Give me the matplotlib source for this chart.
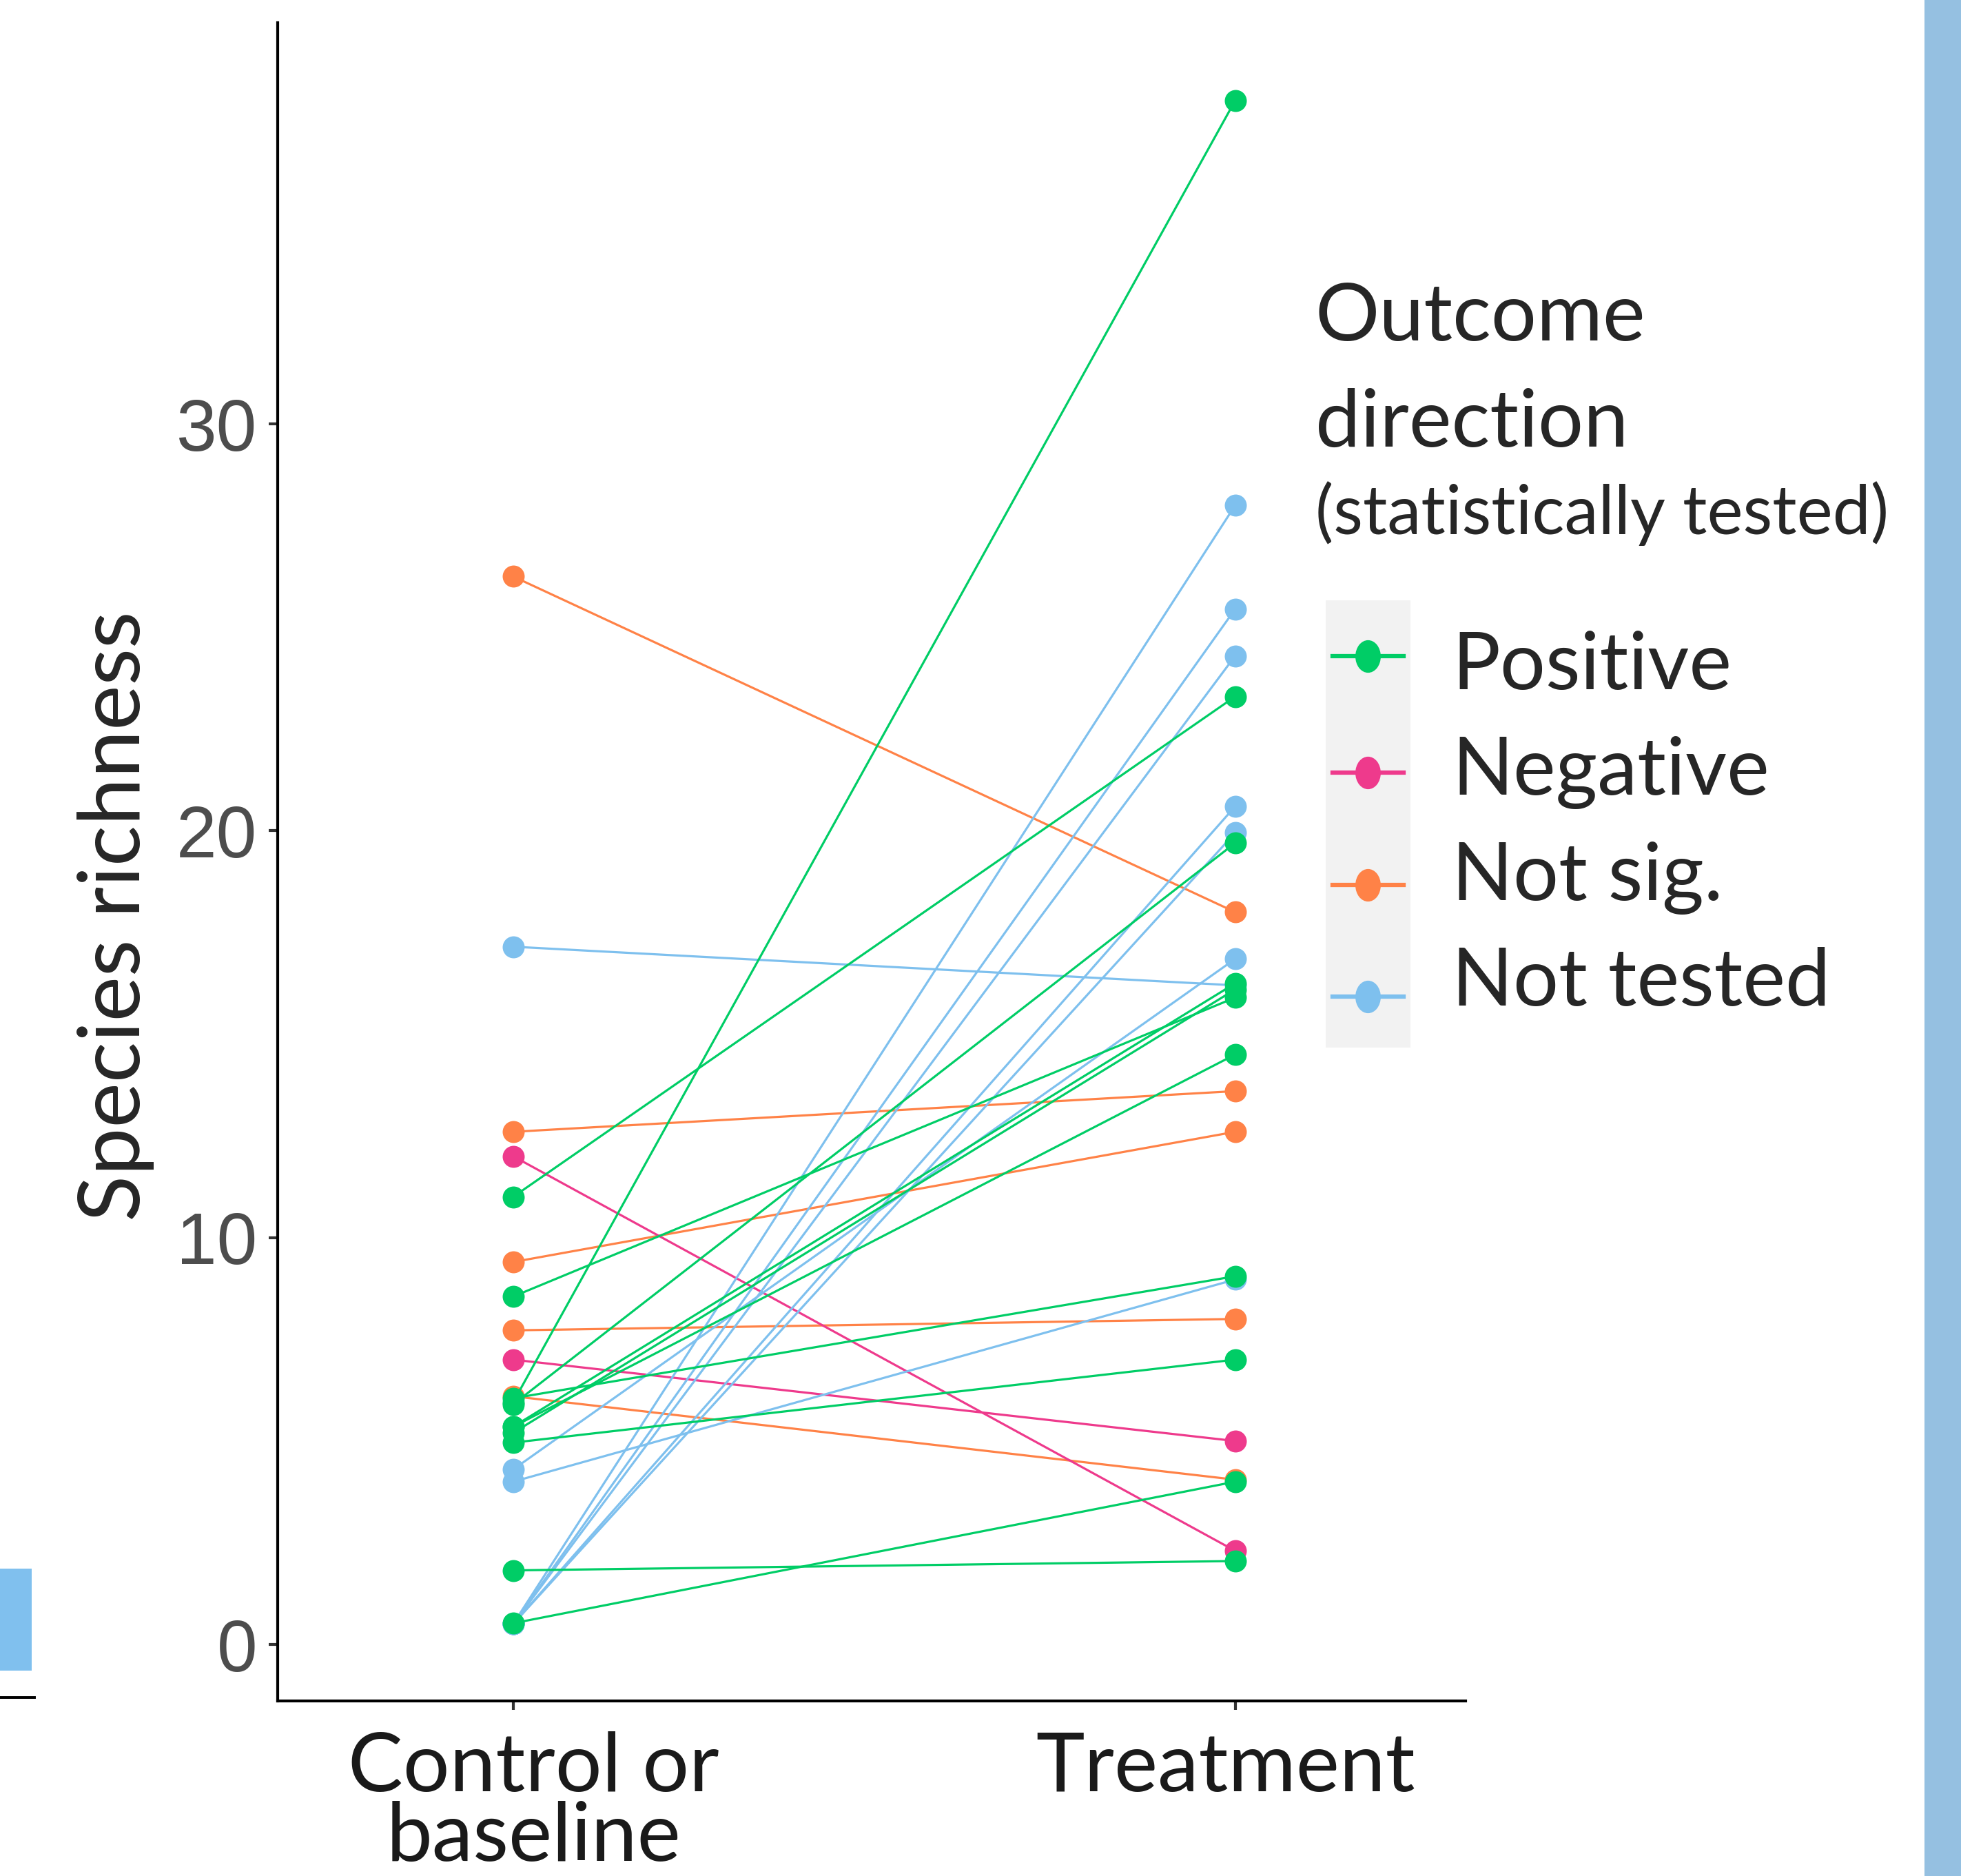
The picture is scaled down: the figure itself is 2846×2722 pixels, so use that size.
import numpy as np
import matplotlib
matplotlib.use("Agg")
import matplotlib.pyplot as plt
from matplotlib.lines import Line2D
from matplotlib.patches import Rectangle
from matplotlib.path import Path
from matplotlib.transforms import Affine2D, ScaledTranslation

W, H = 2846, 2722

# paired values: control/baseline -> treatment
positive_before = [5.95, 11.0, 5.9, 5.35, 5.2, 8.55, 5.35, 6.05, 4.96, 0.52, 1.82]
positive_after = [37.95, 23.3, 19.7, 16.25, 16.1, 15.9, 14.5, 9.05, 7.0, 4.0, 2.05]

negative_before = [12.0, 7.0]
negative_after = [2.3, 5.0]

notsig_before = [26.25, 12.6, 9.4, 7.72, 6.1]
notsig_after = [18.0, 13.6, 12.6, 8.0, 4.05]

nottested_before = [0.5, 0.5, 0.5, 0.5, 0.5, 17.15, 4.3, 4.0]
nottested_after = [28.0, 25.45, 24.3, 20.6, 19.95, 16.2, 16.85, 8.97]

groups = ["Positive", "Negative", "Not sig.", "Not tested"]
colors = {"Positive": "#00CD66", "Negative": "#EE3A8C",
          "Not sig.": "#FF8247", "Not tested": "#7EC0EE"}
x_labels = ["Control or\nbaseline", "Treatment"]
y_ticks = [0, 10, 20, 30]

TEXT_FONT = "Lato"
TEXT_COLOR = "#262626"


def fx(px):
    return px / W


def fy(py):
    return 1 - py / H


fig = plt.figure(figsize=(W / 100, H / 100), dpi=100)
ax = fig.add_axes([fx(403), fy(2468), fx(2127) - fx(403), fy(33) - fy(2468)])

# draw order roughly as in the original (green on top)
series = [
    ("Not sig.", notsig_before, notsig_after),
    ("Negative", negative_before, negative_after),
    ("Not tested", nottested_before, nottested_after),
    ("Positive", positive_before, positive_after),
]
for name, before, after in series:
    for b, a in zip(before, after):
        ax.plot([1, 2], [b, a], color=colors[name], lw=2.3,
                marker="o", ms=23, markeredgewidth=0, solid_capstyle="butt")

ax.set_xlim(0.674, 2.319)
ax.set_ylim(-1.389, 39.86)

for side in ["top", "right"]:
    ax.spines[side].set_visible(False)
for side in ["left", "bottom"]:
    ax.spines[side].set_linewidth(3)
    ax.spines[side].set_color("black")

ax.set_yticks(y_ticks)
ax.set_yticklabels([str(t) for t in y_ticks], fontfamily="Liberation Sans",
                   fontsize=76, color="#4D4D4D")
ax.tick_params(axis="y", length=9.4, width=3, color="#333333", pad=12)

ax.set_xticks([1, 2])
ax.set_xticklabels(x_labels, fontfamily=TEXT_FONT, fontsize=86,
                   color="#1A1A1A", linespacing=0.93)
ax.tick_params(axis="x", length=9.4, width=3, color="#333333", pad=22)
# the labels in the original sit a little off their ticks
shifts = [30, -14]
for lab, dx in zip(ax.get_xticklabels(), shifts):
    lab.set_transform(lab.get_transform() + ScaledTranslation(dx / 100, 0, fig.dpi_scale_trans))

fig.text(fx(168), fy(1329), "Species richness", rotation=90, fontfamily=TEXT_FONT,
         fontsize=89, color=TEXT_COLOR, ha="center", va="center")

# legend, built by hand to keep the layout of the original
fig.text(fx(1909), fy(494), "Outcome", fontfamily=TEXT_FONT, fontsize=84,
         color=TEXT_COLOR, ha="left", va="baseline")
fig.text(fx(1909), fy(648), "direction", fontfamily=TEXT_FONT, fontsize=84,
         color=TEXT_COLOR, ha="left", va="baseline")
fig.text(fx(1909), fy(775), "(statistically tested)", fontfamily=TEXT_FONT, fontsize=71,
         color=TEXT_COLOR, ha="left", va="baseline")

fig.add_artist(Rectangle((fx(1924), fy(1520)), fx(2047) - fx(1924), fy(871) - fy(1520),
                         transform=fig.transFigure, color="#F2F2F2", lw=0, zorder=1))
key_marker = Path.unit_circle().transformed(Affine2D().scale(0.78, 1.0))
marker_y = [952, 1121, 1284, 1446]
label_y = [1000, 1153, 1306, 1459]
for name, my, ly in zip(groups, marker_y, label_y):
    fig.add_artist(Line2D([fx(1934), fx(2037)], [fy(my), fy(my)], transform=fig.transFigure,
                          color=colors[name], lw=4.5, marker=None, zorder=2))
    fig.add_artist(Line2D([fx(1985)], [fy(my)], transform=fig.transFigure, color=colors[name],
                          marker=key_marker, ms=34, markeredgewidth=0, lw=0, zorder=3))
    fig.text(fx(2107), fy(ly), name, fontfamily=TEXT_FONT, fontsize=84,
             color=TEXT_COLOR, ha="left", va="baseline")

# bits of neighbouring slide content captured in the screenshot
fig.add_artist(Rectangle((fx(2793), 0), fx(W) - fx(2793), 1, transform=fig.transFigure,
                         color="#95C0E1", lw=0))
fig.add_artist(Rectangle((0, fy(2424)), fx(46), fy(2276) - fy(2424), transform=fig.transFigure,
                         color="#80C0EE", lw=0))
fig.add_artist(Line2D([0, fx(50)], [fy(2463), fy(2463)], transform=fig.transFigure,
                      color="black", lw=2.8))

fig.savefig("out.png", dpi=100, facecolor="white")
